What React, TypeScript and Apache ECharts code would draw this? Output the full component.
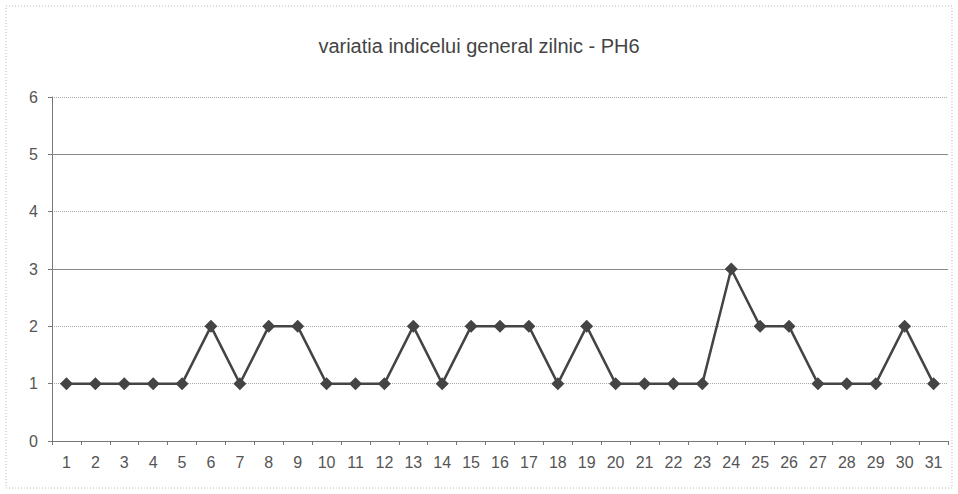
import React, { useEffect, useRef } from "react";
import * as echarts from "echarts";

const categories = Array.from({ length: 31 }, (_, i) => String(i + 1));
const values = [1, 1, 1, 1, 1, 2, 1, 2, 2, 1, 1, 1, 2, 1, 2, 2, 2, 1, 2, 1, 1, 1, 1, 3, 2, 2, 1, 1, 1, 2, 1];
const titleText = "variatia indicelui general zilnic - PH6";

export default function App() {
  const ref = useRef<HTMLDivElement>(null);
  useEffect(() => {
    const chart = echarts.init(ref.current!, null, { renderer: "svg" });
    chart.setOption({
      animation: false,
      backgroundColor: "#fff",
      textStyle: { fontFamily: "Liberation Sans, Arial, sans-serif" },
      title: {
        text: titleText,
        left: "center",
        top: 31,
        textStyle: { fontSize: 20, fontWeight: "normal", color: "#444", fontFamily: "Liberation Sans, Arial, sans-serif" },
      },
      graphic: [
        {
          type: "rect",
          shape: { x: 6, y: 6, width: 946, height: 482 },
          style: { fill: "none", stroke: "#bbb", lineWidth: 1, lineDash: [1, 2] },
          silent: true,
          z: -1,
        },
      ],
      grid: { left: 52, right: 10, top: 97, bottom: 53 },
      xAxis: {
        type: "category",
        data: categories,
        boundaryGap: true,
        axisLine: { lineStyle: { color: "#777", width: 1 } },
        axisTick: { show: true, length: 4, lineStyle: { color: "#777" } },
        axisLabel: { color: "#555", fontSize: 16, margin: 13 },
      },
      yAxis: {
        type: "value",
        min: 0,
        max: 6,
        interval: 1,
        axisLine: { show: true, lineStyle: { color: "#777", width: 1 } },
        axisTick: { show: true, length: 4, lineStyle: { color: "#777" } },
        axisLabel: { color: "#555", fontSize: 16, margin: 14 },
        splitLine: { show: true, lineStyle: { color: "#aaa", type: [1, 1], width: 1 } },
      },
      series: [
        {
          type: "line",
          data: values,
          symbol: "diamond",
          symbolSize: 13,
          lineStyle: { color: "#444", width: 2.5 },
          itemStyle: { color: "#444" },
          markLine: {
            silent: true,
            symbol: "none",
            label: { show: false },
            lineStyle: { color: "#888", type: "solid", width: 1 },
            data: [{ yAxis: 3 }, { yAxis: 5 }],
            z: 1,
          },
        },
      ],
    });
    return () => chart.dispose();
  }, []);
  return <div ref={ref} style={{ width: 958, height: 494, position: "absolute", left: 0, top: 0 }} />;
}
